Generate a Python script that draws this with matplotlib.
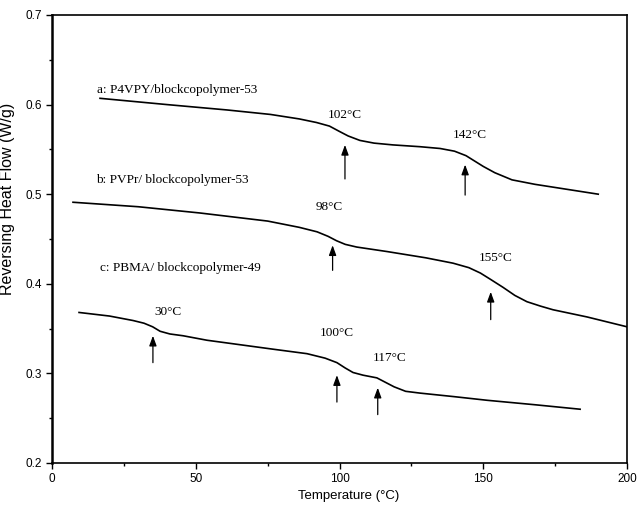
import matplotlib
matplotlib.use('Agg')
import matplotlib.pyplot as plt

plt.rcParams['font.family'] = 'Liberation Sans'

# curve a: P4VPY/blockcopolymer-53
a_temp = [16.7, 40, 60.9, 76, 86, 92, 96.5, 100, 103, 107.1, 112, 118.6, 128, 135, 140, 144, 147, 150, 154, 160, 168, 178, 190]
a_flow = [0.607, 0.600, 0.594, 0.589, 0.584, 0.580, 0.576, 0.570, 0.565, 0.560, 0.557, 0.555, 0.553, 0.551, 0.548, 0.543, 0.537, 0.531, 0.524, 0.516, 0.511, 0.506, 0.500]

# curve b: PVPr/ blockcopolymer-53
b_temp = [7.3, 30, 51.5, 75, 86, 92.2, 96, 99, 102, 106, 116.5, 130, 139.5, 145, 149, 152.5, 156.9, 161, 165.2, 170, 174.3, 186.1, 200]
b_flow = [0.491, 0.486, 0.479, 0.470, 0.463, 0.458, 0.453, 0.448, 0.444, 0.441, 0.436, 0.429, 0.423, 0.418, 0.412, 0.405, 0.396, 0.387, 0.380, 0.375, 0.371, 0.363, 0.352]

# curve c: PBMA/ blockcopolymer-49
c_temp = [9.4, 20, 28.2, 32, 35, 37.6, 41, 45.6, 53.9, 76.9, 88.7, 95, 99.1, 102, 104.7, 108.2, 113, 116, 119, 123, 128, 140, 151.3, 168, 183.7]
c_flow = [0.368, 0.364, 0.359, 0.356, 0.352, 0.347, 0.344, 0.342, 0.337, 0.327, 0.322, 0.317, 0.312, 0.306, 0.301, 0.298, 0.295, 0.290, 0.285, 0.280, 0.278, 0.274, 0.270, 0.265, 0.260]

curve_names = ['a: P4VPY/blockcopolymer-53', 'b: PVPr/ blockcopolymer-53', 'c: PBMA/ blockcopolymer-49']
name_x = [15.5, 15.3, 16.7]
name_y = [0.616, 0.516, 0.418]

# glass transitions: label and arrow
tg_text = ['102°C', '142°C', '98°C', '155°C', '30°C', '100°C', '117°C']
tg_label_x = [102, 145.4, 96.5, 154.4, 40.4, 99.1, 117.6]
tg_label_y = [0.588, 0.566, 0.486, 0.429, 0.368, 0.345, 0.317]
arrow_x = [101.9, 143.7, 97.6, 152.6, 35.1, 99.1, 113.3]
arrow_tip = [0.555, 0.533, 0.443, 0.391, 0.342, 0.298, 0.284]
arrow_tail = [0.517, 0.499, 0.415, 0.360, 0.312, 0.268, 0.254]

fig = plt.figure(figsize=(6.39, 5.08), dpi=100)
ax = fig.add_axes([0.0814, 0.0886, 0.8998, 0.8819])

for t, f in [(a_temp, a_flow), (b_temp, b_flow), (c_temp, c_flow)]:
    ax.plot(t, f, color='black', lw=1.2, solid_joinstyle='round')

for i in range(len(curve_names)):
    ax.text(name_x[i], name_y[i], curve_names[i], family='Liberation Serif',
            fontsize=9.5, ha='left', va='center')

for i in range(len(tg_text)):
    ax.text(tg_label_x[i], tg_label_y[i], tg_text[i], family='Liberation Serif',
            fontsize=9.5, ha='center', va='center')
    ax.annotate('', xy=(arrow_x[i], arrow_tip[i]), xytext=(arrow_x[i], arrow_tail[i]),
                arrowprops=dict(arrowstyle='-|>,head_length=0.6,head_width=0.22',
                                color='black', lw=0.9, shrinkA=0, shrinkB=0))

ax.set_xlim(0, 200)
ax.set_ylim(0.2, 0.7)
ax.set_xticks([0, 50, 100, 150, 200])
ax.set_xticks([25, 75, 125, 175], minor=True)
ax.set_yticks([0.2, 0.3, 0.4, 0.5, 0.6, 0.7])
ax.set_yticks([0.25, 0.35, 0.45, 0.55, 0.65], minor=True)
ax.set_yticklabels(['0.2', '0.3', '0.4', '0.5', '0.6', '0.7'])
ax.tick_params(labelsize=8.5, length=4, width=1, direction='out')
ax.tick_params(which='minor', length=2.5, width=1)
for s in ax.spines.values():
    s.set_linewidth(1.2)
ax.spines['left'].set_linewidth(1.8)

ax.set_xlabel('Temperature (°C)', fontsize=9.5)
ax.set_ylabel('Reversing Heat Flow (W/g)', fontsize=11.5)
ax.xaxis.set_label_coords(0.515, -0.06)
ax.yaxis.set_label_coords(-0.065, 0.59)

plt.savefig('out.png', dpi=100)
